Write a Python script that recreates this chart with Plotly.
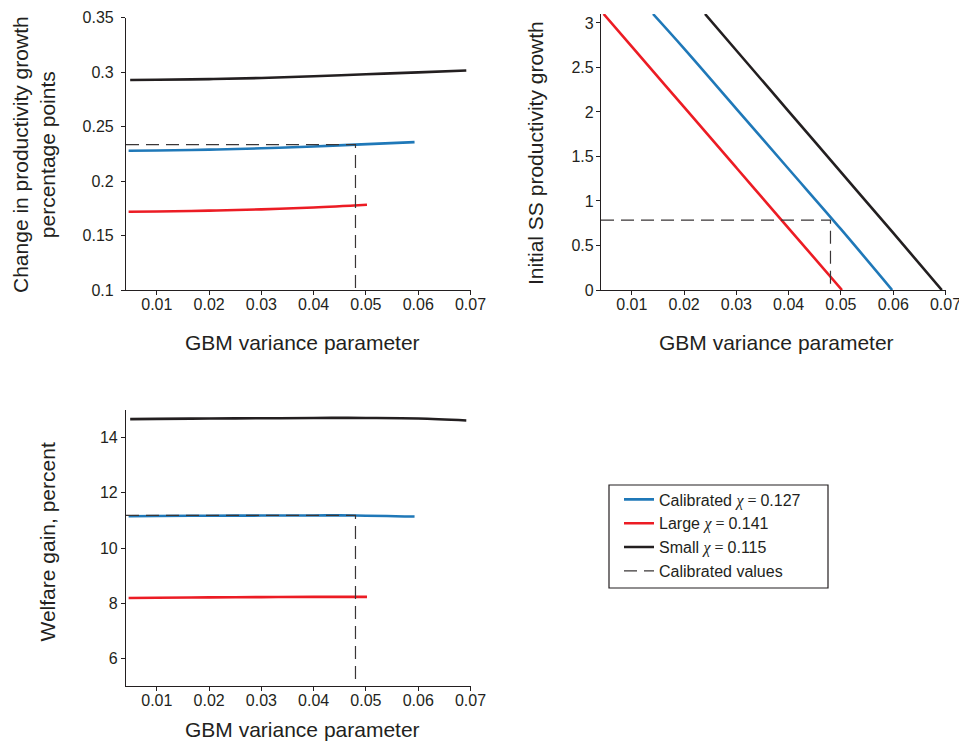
import plotly.graph_objects as go

# ---------------- data ----------------
# Panel 1: change in productivity growth (percentage points)
p1_black_x = [0.0049, 0.01, 0.02, 0.03, 0.04, 0.05, 0.06, 0.0692]
p1_black_y = [0.2927, 0.2929, 0.2935, 0.2945, 0.2961, 0.2979, 0.2997, 0.3014]
p1_blue_x = [0.0046, 0.01, 0.02, 0.03, 0.04, 0.048, 0.0593]
p1_blue_y = [0.2277, 0.2280, 0.2288, 0.2300, 0.2317, 0.2334, 0.2357]
p1_red_x = [0.0046, 0.01, 0.02, 0.03, 0.04, 0.0502]
p1_red_y = [0.1718, 0.1720, 0.1728, 0.1740, 0.1757, 0.1782]
p1_calib_x = [0.0041, 0.048, 0.048]
p1_calib_y = [0.2334, 0.2334, 0.1]

# Panel 2: initial SS productivity growth
p2_red_x = [0.0046, 0.01, 0.02, 0.03, 0.04, 0.0502]
p2_red_y = [3.1, 2.733, 2.053, 1.373, 0.693, 0.0]
p2_blue_x = [0.01405, 0.02, 0.03, 0.04, 0.05, 0.0598]
p2_blue_y = [3.1, 2.711, 2.035, 1.359, 0.683, 0.0]
p2_black_x = [0.0240, 0.03, 0.04, 0.05, 0.06, 0.0693]
p2_black_y = [3.1, 2.690, 2.007, 1.324, 0.641, 0.0]
p2_calib_x = [0.0041, 0.048, 0.048]
p2_calib_y = [0.785, 0.785, 0.0]

# Panel 3: welfare gain, percent
p3_black_x = [0.0049, 0.01, 0.02, 0.03, 0.04, 0.045, 0.05, 0.06, 0.0692]
p3_black_y = [14.67, 14.68, 14.69, 14.70, 14.71, 14.715, 14.71, 14.69, 14.62]
p3_blue_x = [0.0046, 0.01, 0.02, 0.03, 0.04, 0.048, 0.0593]
p3_blue_y = [11.15, 11.16, 11.17, 11.175, 11.18, 11.18, 11.14]
p3_red_x = [0.0046, 0.01, 0.02, 0.03, 0.04, 0.0502]
p3_red_y = [8.19, 8.20, 8.21, 8.22, 8.23, 8.23]
p3_calib_x = [0.0041, 0.048, 0.048]
p3_calib_y = [11.18, 11.18, 5.0]

x_ticks = [0.01, 0.02, 0.03, 0.04, 0.05, 0.06, 0.07]
x_tick_labels = ["0.01", "0.02", "0.03", "0.04", "0.05", "0.06", "0.07"]
p1_y_ticks = [0.1, 0.15, 0.2, 0.25, 0.3, 0.35]
p1_y_labels = ["0.1", "0.15", "0.2", "0.25", "0.3", "0.35"]
p2_y_ticks = [0, 0.5, 1, 1.5, 2, 2.5, 3]
p2_y_labels = ["0", "0.5", "1", "1.5", "2", "2.5", "3"]
p3_y_ticks = [6, 8, 10, 12, 14]
p3_y_labels = ["6", "8", "10", "12", "14"]

chi = "<span style='font-family:Liberation Serif'><i>χ</i> = </span>"
series_names = {
    "blue": "Calibrated " + chi + "0.127",
    "red": "Large " + chi + "0.141",
    "black": "Small " + chi + "0.115",
    "calib": "Calibrated values",
}

# ---------------- styling ----------------
W, H = 967, 743
# page offset of the plot div (body margin)
OX, OY, WE, HE = 8, 8, W, H
BLUE = "#1f78b8"
RED = "#ec1c24"
BLACK = "#231f20"
DASH_COL = "#3a3637"
TXT = "#231f20"
FONT = "Liberation Sans, Arial, sans-serif"
LW = 2.6


def fx(px):
    return (px - OX) / WE


def fy(py):
    return 1 - (py - OY) / HE


fig = go.Figure()

panels = [
    ("x", "y", p1_blue_x, p1_blue_y, p1_red_x, p1_red_y, p1_black_x, p1_black_y, p1_calib_x, p1_calib_y, True),
    ("x2", "y2", p2_blue_x, p2_blue_y, p2_red_x, p2_red_y, p2_black_x, p2_black_y, p2_calib_x, p2_calib_y, False),
    ("x3", "y3", p3_blue_x, p3_blue_y, p3_red_x, p3_red_y, p3_black_x, p3_black_y, p3_calib_x, p3_calib_y, False),
]

for xa, ya, bx, by, rx, ry, kx, ky, cx, cy, show in panels:
    fig.add_trace(go.Scatter(x=bx, y=by, mode="lines", xaxis=xa, yaxis=ya,
                             line=dict(color=BLUE, width=LW, shape="spline"),
                             name=series_names["blue"], legendgroup="blue",
                             showlegend=show, legendrank=1))
    fig.add_trace(go.Scatter(x=rx, y=ry, mode="lines", xaxis=xa, yaxis=ya,
                             line=dict(color=RED, width=LW, shape="spline"),
                             name=series_names["red"], legendgroup="red",
                             showlegend=show, legendrank=2))
    fig.add_trace(go.Scatter(x=kx, y=ky, mode="lines", xaxis=xa, yaxis=ya,
                             line=dict(color=BLACK, width=LW, shape="spline"),
                             name=series_names["black"], legendgroup="black",
                             showlegend=show, legendrank=3))
    fig.add_trace(go.Scatter(x=cx, y=cy, mode="lines", xaxis=xa, yaxis=ya,
                             line=dict(color=DASH_COL, width=1.2, dash="13px,7px"),
                             name=series_names["calib"], legendgroup="calib",
                             showlegend=show, legendrank=4))

axis_common = dict(showline=True, linecolor=BLACK, linewidth=1.2, ticks="outside",
                   ticklen=4, tickwidth=1.2, tickcolor=BLACK, showgrid=False,
                   zeroline=False, ticklabeloverflow="allow", automargin=False,
                   tickfont=dict(size=16, color=TXT, family=FONT))

xr = [0.0041, 0.0701]
fig.update_layout(
    template="none",
    width=W, height=H,
    margin=dict(l=0, r=0, t=0, b=0, autoexpand=False),
    paper_bgcolor="white", plot_bgcolor="white",
    font=dict(family=FONT, color=TXT),
    xaxis=dict(domain=[fx(126), fx(471)], range=xr, anchor="y", tickvals=x_ticks,
               ticktext=x_tick_labels, ticklabelstandoff=-4, **axis_common),
    yaxis=dict(domain=[fy(290), fy(17.5)], range=[0.1, 0.35], anchor="x", tickvals=p1_y_ticks,
               ticktext=p1_y_labels, ticklabelstandoff=4, **axis_common),
    xaxis2=dict(domain=[fx(601), fx(946)], range=xr, anchor="y2", tickvals=x_ticks,
                ticktext=x_tick_labels, ticklabelstandoff=-4, **axis_common),
    yaxis2=dict(domain=[fy(290), fy(14)], range=[0, 3.1], anchor="x2", tickvals=p2_y_ticks,
                ticktext=p2_y_labels, ticklabelstandoff=-1, **axis_common),
    xaxis3=dict(domain=[fx(126), fx(471)], range=xr, anchor="y3", tickvals=x_ticks,
                ticktext=x_tick_labels, ticklabelstandoff=-4, **axis_common),
    yaxis3=dict(domain=[fy(686), fy(410)], range=[5, 15], anchor="x3", tickvals=p3_y_ticks,
                ticktext=p3_y_labels, ticklabelstandoff=0, **axis_common),
    legend=dict(x=fx(619), y=fy(482.5), xanchor="left", yanchor="top",
                bgcolor="rgba(0,0,0,0)", borderwidth=0,
                font=dict(size=16, color=TXT, family=FONT),
                traceorder="normal", itemwidth=30),
    showlegend=True,
)

# legend frame
fig.add_shape(type="rect", xref="paper", yref="paper",
              x0=fx(609), x1=fx(828), y0=fy(588), y1=fy(485),
              line=dict(color=BLACK, width=1.2), fillcolor="rgba(0,0,0,0)", layer="below")

ann_font = dict(size=21, color=TXT, family=FONT)
annotations = [
    dict(text="Change in productivity growth<br>percentage points", x=fx(34), y=fy(155),
         textangle=-90),
    dict(text="Initial SS productivity growth", x=fx(535.5), y=fy(153.5), textangle=-90),
    dict(text="Welfare gain, percent", x=fx(47), y=fy(542.5), textangle=-90),
    dict(text="GBM variance parameter", x=fx(302), y=fy(342)),
    dict(text="GBM variance parameter", x=fx(776.5), y=fy(342)),
    dict(text="GBM variance parameter", x=fx(302), y=fy(729)),
]
for a in annotations:
    fig.add_annotation(xref="paper", yref="paper", showarrow=False, xanchor="center",
                       yanchor="middle", font=ann_font, **a)

fig.write_html("out.html")
